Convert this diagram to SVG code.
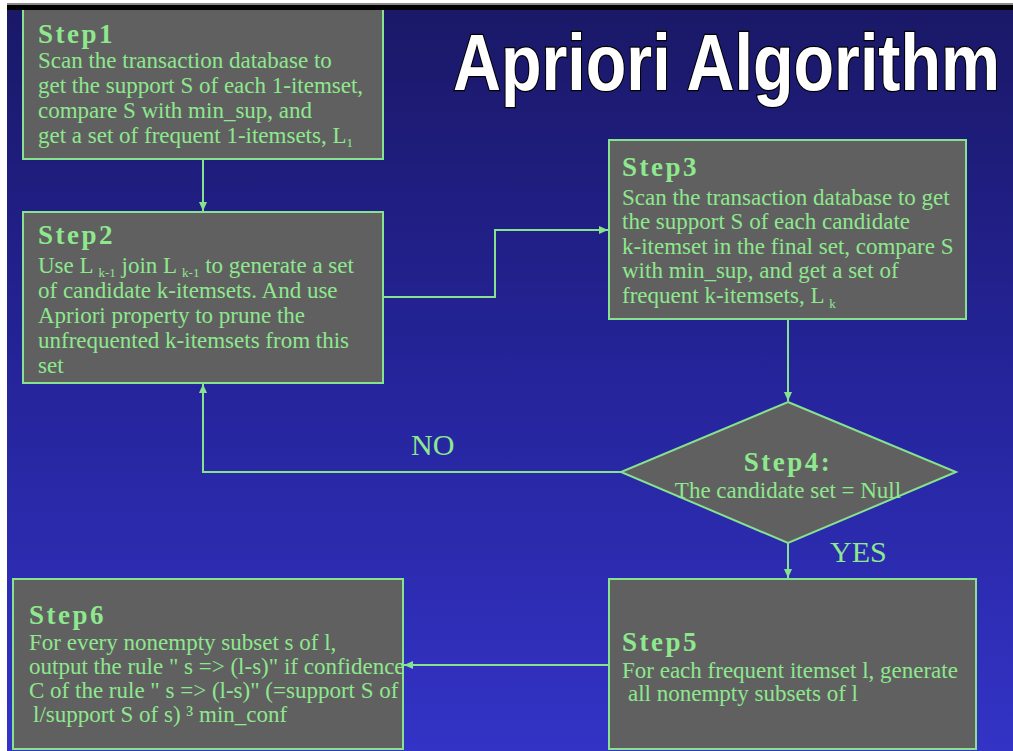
<svg xmlns="http://www.w3.org/2000/svg" width="1013" height="751" viewBox="0 0 1013 751">
<defs>
<linearGradient id="bg" x1="0" y1="0" x2="0" y2="1">
<stop offset="0" stop-color="#1a1866"/>
<stop offset="0.5" stop-color="#25249a"/>
<stop offset="1" stop-color="#3333c6"/>
</linearGradient>
<marker id="arr" markerUnits="userSpaceOnUse" markerWidth="10" markerHeight="10" refX="9" refY="5" orient="auto">
<path d="M0,1 L9,5 L0,9 Z" fill="#86e28e"/>
</marker>
<style>
.box{fill:#606060;stroke:#86e28e;stroke-width:2}
.t{font-family:"Liberation Serif","Times New Roman",serif;font-size:23px;fill:#8ee88e}
.h{font-family:"Liberation Serif","Times New Roman",serif;font-size:27px;font-weight:bold;letter-spacing:2.5px;fill:#8ee88e}
.sub{font-size:13px}
.lbl{font-family:"Liberation Serif","Times New Roman",serif;font-size:30px;fill:#8ee88e}
.con{fill:none;stroke:#86e28e;stroke-width:2;marker-end:url(#arr)}
.title{font-family:"Liberation Sans",Arial,sans-serif;font-weight:bold;font-size:80px;fill:#ffffff;stroke:#000000;stroke-width:2.5;paint-order:stroke}
</style>
</defs>
<rect x="0" y="0" width="1013" height="751" fill="#ffffff"/>
<rect x="7" y="5" width="1006" height="746" fill="url(#bg)"/>

<g id="connectors">
<path class="con" d="M203,159 V211"/>
<path class="con" d="M383,297 H495 V230 H608"/>
<path class="con" d="M788,319 V401"/>
<path class="con" d="M621,472 H203 V384"/>
<path class="con" d="M788,543 V578"/>
<path class="con" d="M609,665 H404"/>
</g>

<g id="step1">
<rect class="box" x="23" y="6" width="360" height="153"/>
<text class="h" x="38" y="43">Step1</text>
<text class="t" x="38" y="68">Scan the transaction database to</text>
<text class="t" x="38" y="93">get the support S of each 1-itemset,</text>
<text class="t" x="38" y="118">compare S with min_sup, and</text>
<text class="t" x="38" y="143">get a set of frequent 1-itemsets, L<tspan class="sub" dy="4">1</tspan></text>
</g>

<rect x="7" y="5" width="1006" height="5" fill="#000000"/>
<rect x="7" y="3" width="1006" height="2" fill="#8a8a8a"/>

<text class="title" transform="translate(453,90) scale(0.83,1)" x="0" y="0">Apriori Algorithm</text>

<g id="step2">
<rect class="box" x="23" y="212" width="360" height="171"/>
<text class="h" x="38" y="244">Step2</text>
<text class="t" x="38" y="273">Use L <tspan class="sub" dy="4">k-1</tspan><tspan dy="-4"> join L </tspan><tspan class="sub" dy="4">k-1</tspan><tspan dy="-4"> to generate a set</tspan></text>
<text class="t" x="38" y="298">of candidate k-itemsets. And use</text>
<text class="t" x="38" y="323">Apriori property to prune the</text>
<text class="t" x="38" y="348">unfrequented k-itemsets from this</text>
<text class="t" x="38" y="373">set</text>
</g>

<g id="step3">
<rect class="box" x="609" y="140" width="357" height="179"/>
<text class="h" x="622" y="176">Step3</text>
<text class="t" x="622" y="205">Scan the transaction database to get</text>
<text class="t" x="622" y="229">the support S of each candidate</text>
<text class="t" x="622" y="254">k-itemset in the final set, compare S</text>
<text class="t" x="622" y="278">with min_sup, and get a set of</text>
<text class="t" x="622" y="303">frequent k-itemsets, L <tspan class="sub" dy="5">k</tspan></text>
</g>

<g id="step4">
<polygon class="box" points="788,402 956,472 788,543 621,472"/>
<text class="h" x="788" y="471" text-anchor="middle">Step4:</text>
<text class="t" x="788" y="498" text-anchor="middle">The candidate set = Null</text>
</g>

<text class="lbl" x="411" y="455">NO</text>
<text class="lbl" x="830" y="562">YES</text>

<g id="step5">
<rect class="box" x="609" y="579" width="367" height="170"/>
<text class="h" x="622" y="651">Step5</text>
<text class="t" x="622" y="678">For each frequent itemset l, generate</text>
<text class="t" x="628" y="701">all nonempty subsets of l</text>
</g>

<g id="step6">
<rect class="box" x="13" y="579" width="390" height="170"/>
<text class="h" x="29" y="624">Step6</text>
<text class="t" x="29" y="650">For every nonempty subset s of l,</text>
<text class="t" x="29" y="674">output the rule " s =&gt; (l-s)" if confidence</text>
<text class="t" x="29" y="698">C of the rule " s =&gt; (l-s)" (=support S of</text>
<text class="t" x="33" y="722">l/support S of s) ³ min_conf</text>
</g>
</svg>
